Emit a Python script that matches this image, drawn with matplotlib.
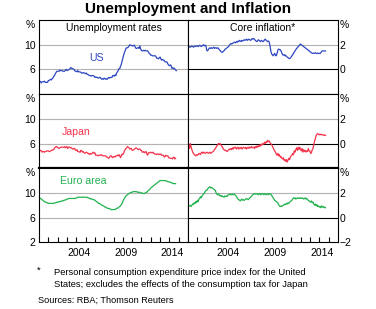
import numpy as np
import matplotlib
matplotlib.use("Agg")
import matplotlib.pyplot as plt

plt.rcParams['font.family'] = ['Liberation Sans', 'DejaVu Sans']

# monthly data, Jan 2000 onwards
start_year = 2000
year_labels = [2004, 2009, 2014]

us_unemp = [
    4.0, 4.1, 4.0, 3.8, 4.0, 4.0, 4.0, 4.1, 3.9, 3.9, 3.9, 3.9,
    4.2, 4.2, 4.3, 4.4, 4.3, 4.5, 4.6, 4.9, 5.0, 5.3, 5.5, 5.7,
    5.7, 5.7, 5.7, 5.9, 5.8, 5.8, 5.8, 5.7, 5.7, 5.7, 5.9, 6.0,
    5.8, 5.9, 5.9, 6.0, 6.1, 6.3, 6.2, 6.1, 6.1, 6.0, 5.8, 5.7,
    5.7, 5.6, 5.8, 5.6, 5.6, 5.6, 5.5, 5.4, 5.4, 5.5, 5.4, 5.4,
    5.3, 5.4, 5.2, 5.2, 5.1, 5.0, 5.0, 4.9, 5.0, 5.0, 5.0, 4.9,
    4.7, 4.8, 4.7, 4.7, 4.6, 4.6, 4.7, 4.7, 4.5, 4.4, 4.5, 4.4,
    4.6, 4.5, 4.4, 4.5, 4.4, 4.6, 4.7, 4.6, 4.7, 4.7, 4.7, 5.0,
    5.0, 4.9, 5.1, 5.0, 5.4, 5.6, 5.8, 6.1, 6.1, 6.5, 6.8, 7.3,
    7.8, 8.3, 8.7, 9.0, 9.4, 9.5, 9.5, 9.6, 9.8, 10.0, 9.9, 9.9,
    9.8, 9.8, 9.9, 9.9, 9.6, 9.4, 9.4, 9.5, 9.5, 9.4, 9.8, 9.3,
    9.1, 9.0, 9.0, 9.1, 9.0, 9.1, 9.0, 9.0, 9.0, 8.8, 8.6, 8.5,
    8.3, 8.3, 8.2, 8.2, 8.2, 8.2, 8.2, 8.0, 7.8, 7.8, 7.7, 7.9,
    8.0, 7.7, 7.5, 7.6, 7.5, 7.5, 7.3, 7.2, 7.2, 7.2, 6.9, 6.7,
    6.6, 6.7, 6.7, 6.2, 6.3, 6.1, 6.2, 6.1, 5.9, 5.8,
]

japan_unemp = [
    4.7, 4.8, 4.9, 4.8, 4.6, 4.7, 4.7, 4.6, 4.7, 4.7, 4.8, 4.8,
    4.8, 4.7, 4.7, 4.8, 4.9, 4.9, 5.0, 5.0, 5.3, 5.4, 5.5, 5.5,
    5.3, 5.3, 5.2, 5.3, 5.4, 5.4, 5.4, 5.4, 5.4, 5.5, 5.3, 5.4,
    5.5, 5.2, 5.4, 5.4, 5.4, 5.3, 5.3, 5.1, 5.1, 5.2, 5.2, 4.9,
    4.9, 5.0, 4.7, 4.7, 4.6, 4.6, 4.9, 4.8, 4.6, 4.7, 4.5, 4.4,
    4.5, 4.6, 4.5, 4.4, 4.4, 4.2, 4.4, 4.3, 4.3, 4.5, 4.6, 4.4,
    4.5, 4.1, 4.1, 4.1, 4.0, 4.1, 4.1, 4.1, 4.2, 4.1, 4.0, 4.0,
    4.0, 4.0, 4.0, 3.8, 3.8, 3.7, 3.6, 3.8, 4.0, 4.0, 3.8, 3.7,
    3.9, 3.9, 3.8, 4.0, 4.0, 4.1, 4.0, 4.2, 4.0, 3.7, 4.0, 4.3,
    4.2, 4.4, 4.8, 5.0, 5.2, 5.3, 5.5, 5.4, 5.3, 5.1, 5.2, 5.2,
    4.9, 4.9, 5.0, 5.1, 5.2, 5.3, 5.2, 5.1, 5.0, 5.1, 5.1, 4.9,
    4.9, 4.6, 4.6, 4.7, 4.5, 4.6, 4.7, 4.3, 4.1, 4.5, 4.5, 4.5,
    4.6, 4.5, 4.5, 4.6, 4.4, 4.3, 4.3, 4.2, 4.3, 4.3, 4.2, 4.3,
    4.2, 4.3, 4.1, 4.1, 4.1, 3.9, 3.8, 4.1, 4.0, 4.0, 4.0, 3.7,
    3.7, 3.6, 3.6, 3.6, 3.5, 3.7, 3.8, 3.5, 3.6,
]

euro_unemp = [
    9.3, 9.2, 9.1, 9.0, 8.9, 8.8, 8.7, 8.6, 8.5, 8.5, 8.4, 8.4,
    8.3, 8.3, 8.3, 8.3, 8.3, 8.3, 8.3, 8.3, 8.4, 8.4, 8.4, 8.5,
    8.5, 8.5, 8.6, 8.6, 8.6, 8.7, 8.7, 8.7, 8.8, 8.8, 8.9, 8.9,
    9.0, 9.0, 9.1, 9.1, 9.1, 9.1, 9.1, 9.1, 9.1, 9.1, 9.1, 9.1,
    9.2, 9.2, 9.3, 9.3, 9.3, 9.3, 9.3, 9.3, 9.3, 9.3, 9.3, 9.3,
    9.3, 9.3, 9.3, 9.2, 9.2, 9.1, 9.1, 9.0, 9.0, 9.0, 8.9, 8.9,
    8.8, 8.7, 8.6, 8.5, 8.4, 8.3, 8.3, 8.2, 8.1, 8.0, 8.0, 7.9,
    7.8, 7.7, 7.7, 7.6, 7.5, 7.5, 7.5, 7.4, 7.4, 7.3, 7.3, 7.3,
    7.3, 7.3, 7.3, 7.4, 7.5, 7.5, 7.6, 7.7, 7.8, 7.9, 8.1, 8.3,
    8.6, 8.9, 9.1, 9.3, 9.5, 9.6, 9.7, 9.8, 9.9, 10.0, 10.0, 10.1,
    10.1, 10.2, 10.2, 10.2, 10.2, 10.2, 10.2, 10.1, 10.1, 10.1, 10.1, 10.0,
    10.0, 10.0, 9.9, 9.9, 9.9, 10.0, 10.1, 10.1, 10.3, 10.4, 10.5, 10.6,
    10.8, 10.9, 11.0, 11.1, 11.2, 11.3, 11.4, 11.5, 11.6, 11.7, 11.8, 11.9,
    12.0, 12.0, 12.0, 12.0, 12.0, 12.0, 12.0, 12.0, 11.9, 11.9, 11.8, 11.8,
    11.8, 11.7, 11.7, 11.6, 11.6, 11.5, 11.5, 11.5, 11.5,
]

us_core = [
    1.75, 1.8, 1.85, 1.8, 1.85, 1.9, 1.85, 1.8, 1.85, 1.9, 1.85, 1.9,
    1.9, 1.85, 1.9, 1.95, 1.9, 1.85, 1.9, 1.95, 2.0, 1.9, 1.95, 1.9,
    1.55, 1.5, 1.6, 1.7, 1.75, 1.7, 1.75, 1.7, 1.75, 1.8, 1.7, 1.75,
    1.75, 1.7, 1.75, 1.7, 1.6, 1.55, 1.45, 1.4, 1.38, 1.45, 1.5, 1.6,
    1.65, 1.7, 1.75, 1.8, 1.85, 1.95, 2.05, 2.1, 2.05, 2.1, 2.15, 2.2,
    2.2, 2.15, 2.25, 2.2, 2.3, 2.25, 2.35, 2.3, 2.25, 2.35, 2.3, 2.35,
    2.4, 2.35, 2.4, 2.45, 2.35, 2.4, 2.45, 2.4, 2.35, 2.4, 2.5, 2.45,
    2.5, 2.45, 2.35, 2.3, 2.25, 2.3, 2.4, 2.35, 2.3, 2.25, 2.35, 2.3,
    2.25, 2.3, 2.4, 2.45, 2.35, 2.3, 2.25, 2.3, 2.2, 1.9, 1.5, 1.25,
    1.2, 1.1, 1.2, 1.3, 1.15, 1.1, 1.3, 1.55, 1.65, 1.6, 1.6, 1.5,
    1.35, 1.2, 1.15, 1.2, 1.1, 1.15, 1.05, 1.0, 0.95, 0.9, 0.88, 0.92,
    1.0, 1.1, 1.2, 1.3, 1.4, 1.5, 1.6, 1.7, 1.75, 1.85, 1.9, 2.0,
    2.05, 2.0, 1.95, 1.9, 1.85, 1.8, 1.75, 1.7, 1.65, 1.6, 1.55, 1.5,
    1.45, 1.4, 1.35, 1.3, 1.3, 1.32, 1.3, 1.35, 1.3, 1.28, 1.32, 1.3,
    1.3, 1.28, 1.35, 1.45, 1.5, 1.5, 1.48, 1.5, 1.5,
]

japan_core = [
    0.0, -0.1, -0.4, 0.0, -0.3, -0.5, -0.7, -0.8, -0.9, -0.95, -1.0, -0.9,
    -0.95, -0.9, -0.8, -0.85, -0.9, -0.75, -0.7, -0.8, -0.7, -0.75, -0.8, -0.75,
    -0.7, -0.75, -0.8, -0.75, -0.7, -0.8, -0.75, -0.7, -0.65, -0.6, -0.5, -0.4,
    -0.3, -0.2, -0.1, 0.0, -0.05, 0.0, -0.1, -0.2, -0.3, -0.4, -0.5, -0.55,
    -0.55, -0.6, -0.65, -0.6, -0.5, -0.45, -0.5, -0.4, -0.5, -0.35, -0.45, -0.3,
    -0.35, -0.3, -0.45, -0.35, -0.3, -0.45, -0.35, -0.4, -0.3, -0.45, -0.35, -0.3,
    -0.35, -0.4, -0.3, -0.45, -0.35, -0.3, -0.4, -0.3, -0.35, -0.25, -0.35, -0.3,
    -0.3, -0.4, -0.25, -0.35, -0.2, -0.3, -0.2, -0.25, -0.1, -0.2, -0.05, -0.1,
    0.0, -0.05, 0.1, 0.0, 0.15, 0.1, 0.25, 0.15, 0.2, 0.05, 0.0, -0.1,
    -0.2, -0.35, -0.5, -0.6, -0.7, -0.85, -0.95, -0.8, -1.0, -0.9, -1.1, -1.05,
    -1.2, -1.25, -1.15, -1.35, -1.3, -1.45, -1.3, -1.5, -1.35, -1.2, -1.3, -1.1,
    -1.0, -0.95, -0.8, -0.9, -0.6, -0.7, -0.5, -0.35, -0.55, -0.3, -0.5, -0.3,
    -0.45, -0.6, -0.4, -0.7, -0.5, -0.65, -0.55, -0.7, -0.6, -0.65, -0.4, -0.6,
    -0.6, -0.8, -0.75, -0.5, -0.4, -0.1, 0.2, 0.4, 0.65, 0.75, 0.8, 0.75,
    0.7, 0.75, 0.7, 0.75, 0.7, 0.7, 0.65, 0.7, 0.65,
]

euro_core = [
    0.95, 0.9, 0.95, 1.0, 0.9, 1.0, 1.1, 1.05, 1.2, 1.15, 1.3, 1.2,
    1.4, 1.3, 1.5, 1.55, 1.7, 1.6, 1.75, 1.85, 1.9, 2.0, 2.1, 2.2,
    2.2, 2.3, 2.4, 2.45, 2.5, 2.4, 2.45, 2.4, 2.35, 2.3, 2.25, 2.2,
    2.0, 1.9, 1.85, 1.95, 1.8, 1.75, 1.8, 1.7, 1.75, 1.7, 1.65, 1.75,
    1.7, 1.75, 1.7, 1.8, 1.85, 1.9, 1.85, 1.9, 1.85, 1.9, 1.85, 1.9,
    1.85, 1.8, 1.7, 1.6, 1.5, 1.45, 1.4, 1.35, 1.45, 1.5, 1.4, 1.45,
    1.4, 1.45, 1.5, 1.55, 1.5, 1.45, 1.5, 1.6, 1.65, 1.7, 1.8, 1.85,
    1.9, 1.95, 1.9, 1.95, 1.9, 1.95, 1.85, 1.9, 1.95, 1.85, 1.9, 1.95,
    1.9, 1.85, 1.95, 1.9, 1.85, 1.9, 1.95, 1.85, 1.9, 1.95, 1.9, 1.8,
    1.7, 1.6, 1.5, 1.4, 1.35, 1.3, 1.25, 1.2, 1.05, 0.95, 0.9, 0.95,
    0.9, 0.95, 1.0, 1.05, 1.1, 1.05, 1.15, 1.1, 1.2, 1.15, 1.25, 1.3,
    1.35, 1.4, 1.5, 1.6, 1.55, 1.6, 1.5, 1.55, 1.6, 1.55, 1.6, 1.55,
    1.6, 1.55, 1.6, 1.55, 1.5, 1.55, 1.6, 1.5, 1.55, 1.45, 1.4, 1.35,
    1.3, 1.25, 1.35, 1.2, 1.25, 1.1, 1.0, 1.1, 0.95, 1.05, 0.9, 0.95,
    0.85, 0.9, 0.8, 0.95, 0.85, 0.9, 0.8, 0.85, 0.8,
]

regions = ['US', 'Japan', 'Euro area']
unemp_series = [us_unemp, japan_unemp, euro_unemp]
core_series = [us_core, japan_core, euro_core]
colors = ['#2f48c2', '#f4344c', '#22b24f']
# where the region names sit (year, unemployment rate)
name_pos = [(2006.2, 7.9), (2004.0, 7.85), (2004.8, 11.85)]

W, H = 376, 309
fig = plt.figure(figsize=(W / 100, H / 100), dpi=100)

x_left, x_mid, x_right = 39, 188, 338
top_px, bot_px = 20, 242.3
ph = (bot_px - top_px) / 3
grid_col = '#b3b3b3'
fs = 7.5


def months(series):
    return start_year + np.arange(len(series)) / 12.0


def add_ax(x0, x1, row):
    y_top = top_px + row * ph
    return fig.add_axes([x0 / W, 1 - (y_top + ph) / H, (x1 - x0) / W, ph / H])


for row in range(3):
    axl = add_ax(x_left, x_mid, row)
    axr = add_ax(x_mid, x_right, row)
    last = row == 2

    axl.plot(months(unemp_series[row]), unemp_series[row], color=colors[row], lw=0.9)
    axr.plot(months(core_series[row]), core_series[row], color=colors[row], lw=0.9)

    axl.set_ylim(2, 14)
    axr.set_ylim(-2, 4)
    for ax in (axl, axr):
        ax.set_xlim(2000, 2016)
        for s in ax.spines.values():
            s.set_linewidth(0.8)
        ax.tick_params(axis='y', length=0, labelsize=fs)

    axl.axhline(10, color=grid_col, lw=0.8, zorder=0)
    axl.axhline(6, color=grid_col, lw=0.8, zorder=0)
    axr.axhline(2, color=grid_col, lw=0.8, zorder=0)
    axr.axhline(0, color='black', lw=0.8, zorder=1)

    if last:
        axl.set_yticks([2, 6, 10])
        axr.set_yticks([-2, 0, 2])
    else:
        axl.set_yticks([6, 10])
        axr.set_yticks([0, 2])
    axl.tick_params(axis='y', pad=2.5)
    axr.yaxis.tick_right()
    axr.tick_params(axis='y', pad=1)

    axl.text(-0.025, 1, '%', transform=axl.transAxes, ha='right', va='top',
             fontsize=fs)
    axr.text(1.008, 1, '%', transform=axr.transAxes, ha='left', va='top',
             fontsize=fs)

    axl.text(name_pos[row][0], name_pos[row][1], regions[row], color=colors[row],
             ha='center', va='center', fontsize=7.6)

    if row == 1:
        axl.spines['bottom'].set_linewidth(1.6)
        axr.spines['bottom'].set_linewidth(1.6)

    for ax in (axl, axr):
        if last:
            ax.set_xticks([y + 0.3 for y in year_labels])
            ax.set_xticklabels([str(y) for y in year_labels], fontsize=fs)
            ax.set_xticks(range(2001, 2016), minor=True)
            ax.tick_params(axis='x', which='major', length=0, pad=4)
            ax.tick_params(axis='x', which='minor', direction='in', length=3.5,
                           width=0.8)
        else:
            ax.set_xticks([])

    if row == 0:
        axl.text(0.5, 0.89, 'Unemployment rates', transform=axl.transAxes,
                 ha='center', va='center', fontsize=fs)
        axr.text(0.5, 0.89, 'Core inflation*', transform=axr.transAxes,
                 ha='center', va='center', fontsize=fs)

fig.text(188 / W, 1 - 9 / H, 'Unemployment and Inflation', ha='center',
         va='center', fontsize=11, fontweight='bold')

fn = 6.75
fig.text(37 / W, 1 - 266 / H, '*', fontsize=fn, ha='left', va='top')
fig.text(54 / W, 1 - 272.3 / H,
         'Personal consumption expenditure price index for the United',
         fontsize=fn, ha='left', va='center')
fig.text(54 / W, 1 - 284.5 / H,
         'States; excludes the effects of the consumption tax for Japan',
         fontsize=fn, ha='left', va='center')
fig.text(38 / W, 1 - 300 / H, 'Sources: RBA; Thomson Reuters',
         fontsize=6.6, ha='left', va='center')

fig.savefig('out.png', dpi=100)
